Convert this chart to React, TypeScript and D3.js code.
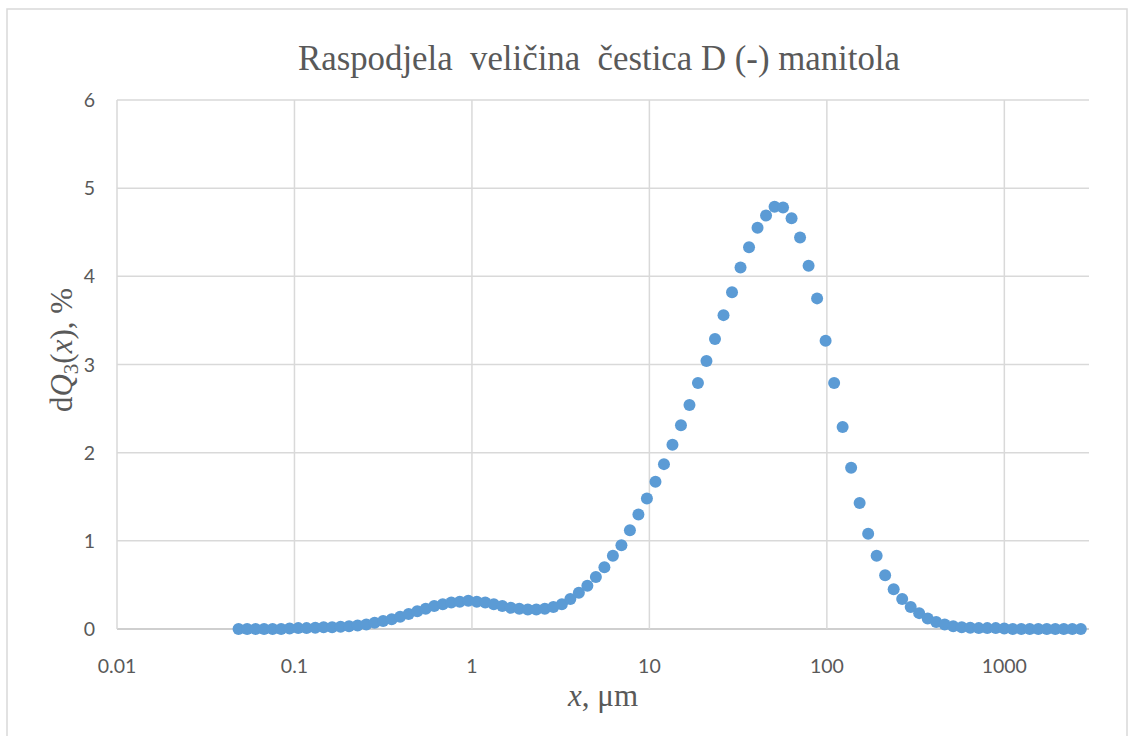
import * as d3 from 'd3';

// particle size classes, µm
const sizes = [
  0.0484, 0.0541, 0.0604, 0.0674, 0.0753, 0.0841, 0.0939, 0.105, 0.117, 0.131,
  0.146, 0.163, 0.182, 0.203, 0.227, 0.254, 0.283, 0.316, 0.353, 0.394,
  0.44, 0.492, 0.549, 0.613, 0.685, 0.765, 0.854, 0.954, 1.065, 1.189,
  1.328, 1.483, 1.656, 1.849, 2.065, 2.306, 2.575, 2.876, 3.212, 3.586,
  4.005, 4.472, 4.994, 5.577, 6.228, 6.955, 7.767, 8.674, 9.685, 10.82,
  12.08, 13.49, 15.06, 16.82, 18.78, 20.97, 23.42, 26.16, 29.21, 32.62,
  36.43, 40.68, 45.43, 50.73, 56.65, 63.26, 70.63, 78.89, 88.09, 98.38,
  109.9, 122.7, 137.0, 153.0, 170.9, 190.8, 213.0, 237.9, 265.7, 296.8,
  331.3, 370.0, 413.2, 461.4, 515.2, 575.4, 642.5, 717.6, 801.3, 894.9,
  999.1, 1116, 1246, 1391, 1554, 1735, 1937, 2163, 2416, 2698,
];

// dQ3(x), %
const dQ3 = [
  0, 0, 0, 0, 0, 0, 0.005, 0.01, 0.01, 0.015,
  0.02, 0.02, 0.025, 0.03, 0.04, 0.05, 0.07, 0.09, 0.11, 0.14,
  0.17, 0.2, 0.23, 0.26, 0.28, 0.3, 0.31, 0.32, 0.31, 0.3,
  0.28, 0.26, 0.24, 0.23, 0.22, 0.22, 0.23, 0.25, 0.28, 0.34,
  0.41, 0.49, 0.59, 0.7, 0.83, 0.95, 1.12, 1.3, 1.48, 1.67,
  1.87, 2.09, 2.31, 2.54, 2.79, 3.04, 3.29, 3.56, 3.82, 4.1,
  4.33, 4.55, 4.69, 4.79, 4.78, 4.66, 4.44, 4.12, 3.75, 3.27,
  2.79, 2.29, 1.83, 1.43, 1.08, 0.83, 0.61, 0.45, 0.34, 0.25,
  0.18, 0.12, 0.08, 0.05, 0.03, 0.02, 0.015, 0.01, 0.01, 0.01,
  0.005, 0, 0, 0, 0, 0, 0, 0, 0, 0,
];

const xTicks = [0.01, 0.1, 1, 10, 100, 1000];
const xTickLabels = ['0.01', '0.1', '1', '10', '100', '1000'];
const yTicks = [0, 1, 2, 3, 4, 5, 6];

const W = 1131;
const H = 736;
const margin = { top: 100, right: 42, bottom: 107, left: 117 };

export default function App() {
  const innerW = W - margin.left - margin.right;
  const innerH = H - margin.top - margin.bottom;

  const x = d3.scaleLog().domain([0.01, 3000]).range([0, innerW]);
  const y = d3.scaleLinear().domain([0, 6]).range([innerH, 0]);

  const points = sizes.map((s, i) => [s, dQ3[i]] as [number, number]);
  const grid = '#d9d9d9';
  const tickColor = '#595959';

  return (
    <svg
      width={W}
      height={H}
      style={{ position: 'absolute', left: 0, top: 0, background: '#fff' }}
    >
      <rect x={7} y={9} width={1120} height={740} fill="#fff" stroke="#d9d9d9" strokeWidth={1.5} />
      <text
        x={599}
        y={70}
        textAnchor="middle"
        fontFamily="'Liberation Serif', serif"
        fontSize={34.8}
        fill="#595959"
        style={{ whiteSpace: 'pre' }}
      >
        {'Raspodjela  veličina  čestica D (-) manitola'}
      </text>

      <g transform={`translate(${margin.left},${margin.top})`}>
        {yTicks.map(t => (
          <g key={'y' + t}>
            <line x1={0} x2={innerW} y1={y(t)} y2={y(t)} stroke={t === 0 ? '#bfbfbf' : grid} strokeWidth={1.5} />
            <text
              x={-22}
              y={y(t) + 7}
              textAnchor="end"
              fontFamily="Lato, sans-serif"
              fontSize={19.5}
              fill={tickColor}
            >
              {t}
            </text>
          </g>
        ))}
        {xTicks.map((t, i) => (
          <g key={'x' + t}>
            <line x1={x(t)} x2={x(t)} y1={0} y2={innerH} stroke={grid} strokeWidth={1.5} />
            <text
              x={x(t)}
              y={innerH + 44}
              textAnchor="middle"
              fontFamily="Lato, sans-serif"
              fontSize={19.5}
              fill={tickColor}
            >
              {xTickLabels[i]}
            </text>
          </g>
        ))}

        {points.map((d, i) => (
          <circle key={i} cx={x(d[0])} cy={y(d[1])} r={6} fill="#5b9bd5" />
        ))}
      </g>

      <text
        x={603}
        y={706}
        textAnchor="middle"
        fontFamily="'Liberation Serif', serif"
        fontSize={31}
        fill="#595959"
      >
        <tspan fontStyle="italic">x</tspan>, μm
      </text>

      <text
        transform="translate(72,350) rotate(-90)"
        textAnchor="middle"
        fontFamily="'Liberation Serif', serif"
        fontSize={31}
        fill="#595959"
      >
        d<tspan fontStyle="italic">Q</tspan>
        <tspan fontSize={21} dy={6}>3</tspan>
        <tspan dy={-6}>(</tspan>
        <tspan fontStyle="italic">x</tspan>), %
      </text>
    </svg>
  );
}
